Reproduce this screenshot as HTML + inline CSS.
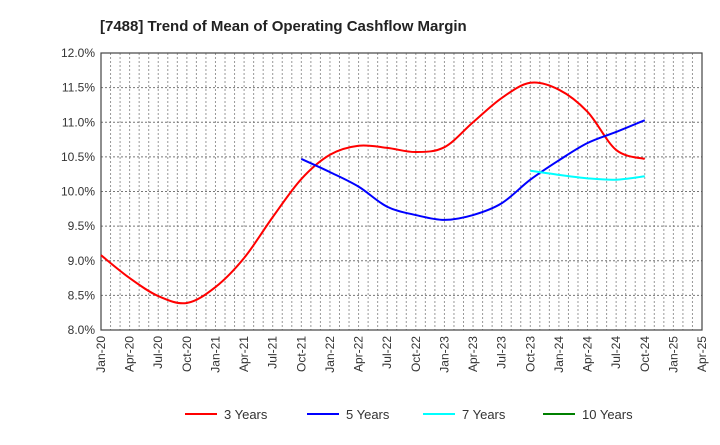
<!DOCTYPE html>
<html><head><meta charset="utf-8"><style>
body{margin:0;background:#fff;font-family:"Liberation Sans",sans-serif}
</style></head><body>
<svg width="720" height="440" font-family="Liberation Sans, sans-serif">
<text x="100" y="31" font-size="15" font-weight="bold" fill="#222">[7488]  Trend of Mean of Operating Cashflow Margin</text>
<g id="grid"></g><g id="axes"></g><g id="series"></g><g id="legend"></g>
</svg>
<script>
const xLabels=["Jan-20","Apr-20","Jul-20","Oct-20","Jan-21","Apr-21","Jul-21","Oct-21","Jan-22","Apr-22","Jul-22","Oct-22","Jan-23","Apr-23","Jul-23","Oct-23","Jan-24","Apr-24","Jul-24","Oct-24","Jan-25","Apr-25"];
const yTicks=[8.0,8.5,9.0,9.5,10.0,10.5,11.0,11.5,12.0];
const seriesNames=["3 Years","5 Years","7 Years","10 Years"];
const seriesColors=["#ff0000","#0000ff","#00ffff","#008000"];
const seriesStart=[0,7,15,0];
const s3=[9.08,8.75,8.49,8.39,8.62,9.04,9.63,10.18,10.53,10.66,10.63,10.57,10.64,11.0,11.35,11.57,11.47,11.15,10.6,10.47];
const s5=[10.47,10.28,10.07,9.78,9.66,9.59,9.66,9.83,10.17,10.45,10.70,10.86,11.03];
const s7=[10.30,10.24,10.19,10.17,10.22];
const s10=[];
const L=101,R=702,T=53,B=330,NM=63;
const X=q=>L+(q*3)*(R-L)/NM;
const Xm=m=>L+m*(R-L)/NM;
const Y=v=>B-(v-8)*(B-T)/4;
const NS="http://www.w3.org/2000/svg";
function mk(t,a,p){const e=document.createElementNS(NS,t);for(const k in a)e.setAttribute(k,a[k]);p.appendChild(e);return e;}
const grid=document.getElementById('grid'),axes=document.getElementById('axes'),ser=document.getElementById('series'),leg=document.getElementById('legend');
for(let m=1;m<NM;m++){const l=mk('line',{x1:Xm(m),x2:Xm(m),y1:T,y2:B,stroke:'#999','stroke-dasharray':'2,2','stroke-width':1},grid);

}
yTicks.forEach(v=>{const l=mk('line',{x1:L,x2:R,y1:Y(v),y2:Y(v),stroke:'#777','stroke-dasharray':'2,2','stroke-width':1},grid);


const t=mk('text',{x:L-6,y:Y(v)+4,'text-anchor':'end','font-size':12,fill:'#333'},axes);t.textContent=v.toFixed(1)+'%';

});
const fr=mk('rect',{x:L,y:T,width:R-L,height:B-T,fill:'none',stroke:'#444','stroke-width':1.2},axes);


xLabels.forEach((s,i)=>{const x=X(i);const t=mk('text',{x:x+4,y:B+6,'text-anchor':'end','font-size':12,fill:'#333',transform:`rotate(-90 ${x+4} ${B+6})`},axes);t.textContent=s;

});
function path(pts){if(pts.length<2)return '';let d=`M${pts[0][0]},${pts[0][1]}`;for(let i=0;i<pts.length-1;i++){const p0=pts[i-1]||pts[i],p1=pts[i],p2=pts[i+1],p3=pts[i+2]||p2;
d+=` C${p1[0]+(p2[0]-p0[0])/6},${p1[1]+(p2[1]-p0[1])/6} ${p2[0]-(p3[0]-p1[0])/6},${p2[1]-(p3[1]-p1[1])/6} ${p2[0]},${p2[1]}`;}return d;}
[s3,s5,s7,s10].forEach((s,k)=>{const pts=s.map((v,i)=>[X(seriesStart[k]+i),Y(v)]);if(pts.length<2)return;
const p=mk('path',{d:path(pts),fill:'none',stroke:seriesColors[k],'stroke-width':2},ser);

});
const lx=[185,307,423,543];
seriesNames.forEach((n,k)=>{const g=mk('g',{},leg);


mk('line',{x1:lx[k],x2:lx[k]+32,y1:414,y2:414,stroke:seriesColors[k],'stroke-width':2},g);
const t=mk('text',{x:lx[k]+39,y:419,'font-size':13,fill:'#333'},g);t.textContent=n;});
</script>
</body></html>
